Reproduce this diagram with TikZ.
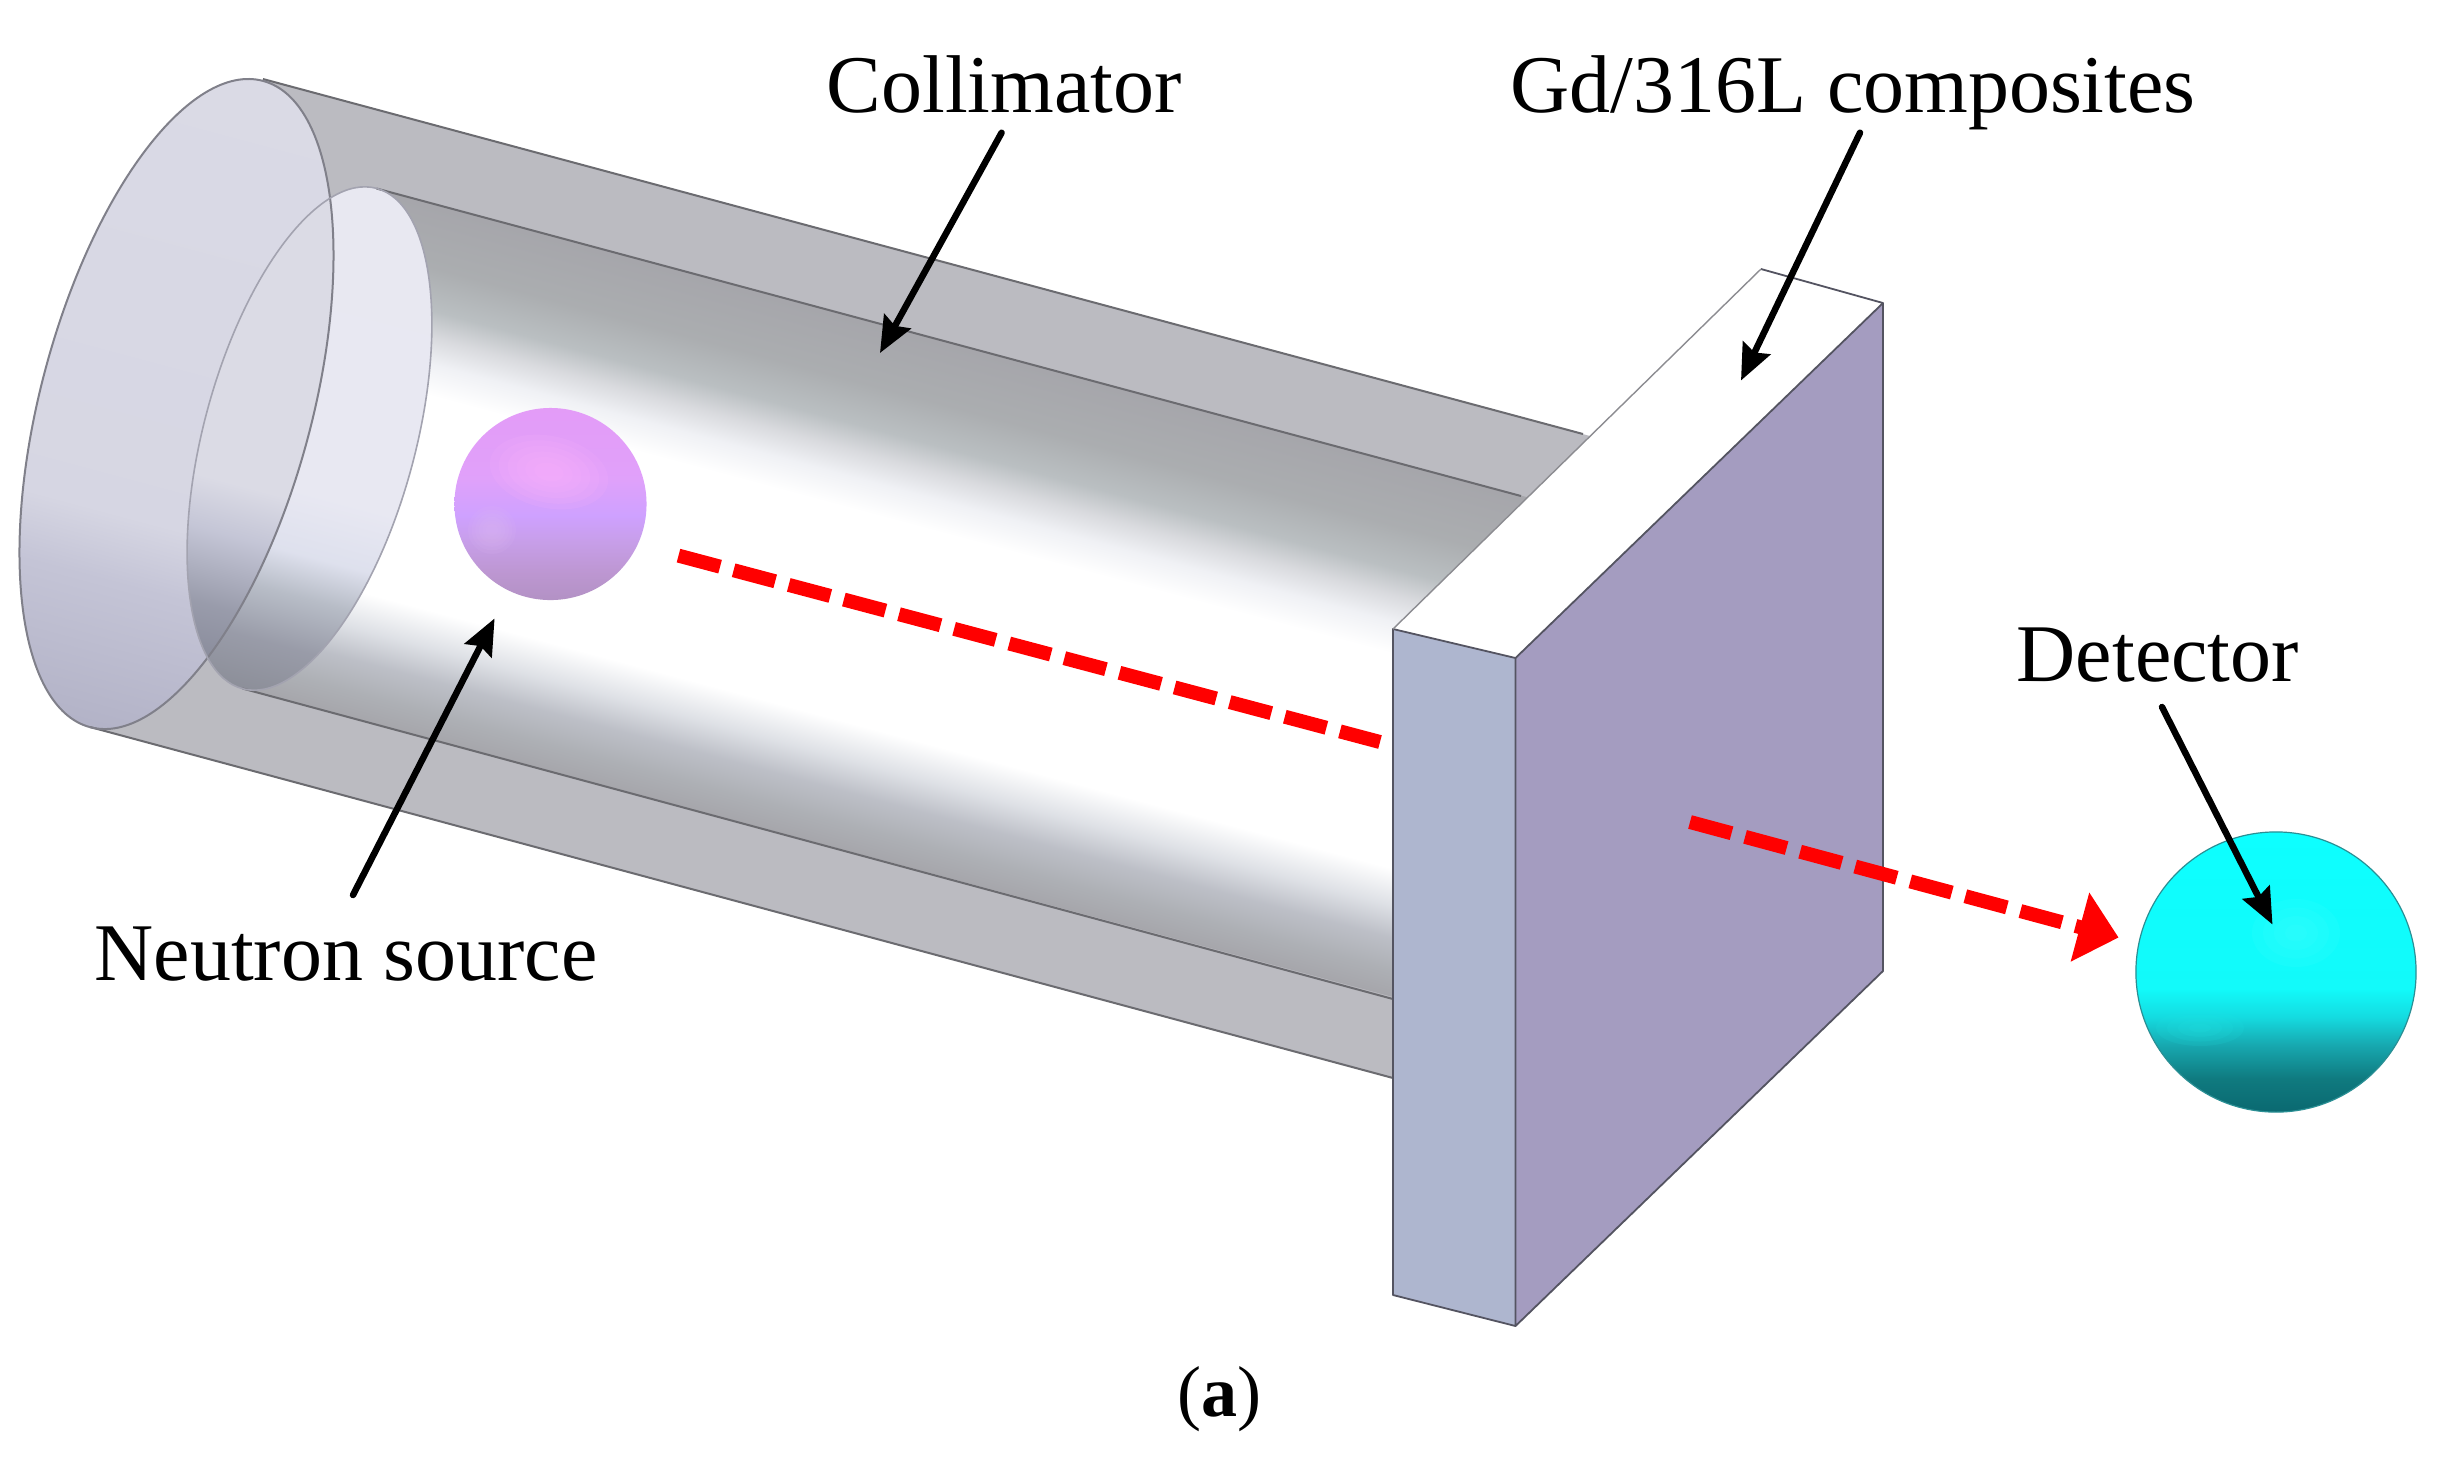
\documentclass[tikz,border=0pt]{standalone}
\usepackage{fontspec}
\setmainfont{Liberation Serif}
\usetikzlibrary{arrows.meta}
\definecolor{bodygrey}{rgb}{.735,.735,.755}
\definecolor{bodyline}{rgb}{.42,.42,.44}
\definecolor{capline}{rgb}{.50,.50,.54}
\definecolor{caplinelight}{rgb}{.64,.64,.69}
\definecolor{panelline}{rgb}{.33,.33,.38}
\definecolor{panelleft}{HTML}{AEB6CF}
\definecolor{panelright}{HTML}{A49CC0}
\definecolor{panelgrey}{rgb}{.55,.55,.57}
\definecolor{pinkhi}{HTML}{FDB4FA}
\definecolor{pinklo}{HTML}{DDB8F2}
\definecolor{cyanhi}{HTML}{40FFFF}
\definecolor{cyanlow}{HTML}{22E6E6}
\definecolor{cyanedge}{HTML}{2A8F94}
\pgfdeclareverticalshading{boreshade}{100bp}{
 rgb(0bp)=(.65,.65,.67); rgb(25bp)=(.65,.65,.67); rgb(27.5bp)=(.68,.69,.71); rgb(30.5bp)=(.74,.75,.78);
 rgb(33.5bp)=(.87,.88,.90); rgb(37bp)=(1,1,1); rgb(57bp)=(1,1,1); rgb(60bp)=(.94,.945,.96);
 rgb(62.5bp)=(.85,.855,.87); rgb(65bp)=(.73,.75,.76); rgb(69bp)=(.67,.68,.69); rgb(75bp)=(.65,.65,.67); rgb(100bp)=(.65,.65,.67)}
\pgfdeclareverticalshading{outercap}{100bp}{
 rgb(0bp)=(.70,.70,.78); rgb(25bp)=(.70,.70,.78); rgb(36bp)=(.77,.77,.84); rgb(41bp)=(.84,.84,.89);
 rgb(75bp)=(.855,.855,.90); rgb(100bp)=(.855,.855,.90)}
\pgfdeclareverticalshading{innercap}{100bp}{
 rgb(0bp)=(.55,.56,.60); rgb(25bp)=(.55,.56,.60); rgb(30bp)=(.60,.61,.66); rgb(35bp)=(.72,.74,.78);
 rgb(39bp)=(.87,.88,.93); rgb(45bp)=(.91,.91,.95); rgb(75bp)=(.91,.91,.945); rgb(100bp)=(.91,.91,.945)}
\pgfdeclareverticalshading{overlapcap}{100bp}{
 rgb(0bp)=(.52,.53,.59); rgb(25bp)=(.52,.53,.59); rgb(32bp)=(.60,.61,.67); rgb(39bp)=(.77,.775,.84);
 rgb(44bp)=(.86,.86,.90); rgb(75bp)=(.86,.86,.90); rgb(100bp)=(.86,.86,.90)}
\pgfdeclareverticalshading{pinkball}{100bp}{
 rgb(0bp)=(.70,.57,.77); rgb(25bp)=(.70,.57,.77); rgb(32bp)=(.74,.59,.82); rgb(40bp)=(.78,.62,.91);
 rgb(47bp)=(.81,.63,1); rgb(57bp)=(.88,.63,.98); rgb(75bp)=(.89,.61,.97); rgb(100bp)=(.89,.61,.97)}
\pgfdeclareverticalshading{cyanball}{100bp}{
 rgb(0bp)=(.04,.41,.44); rgb(25bp)=(.04,.41,.44); rgb(31bp)=(.06,.48,.50); rgb(37bp)=(.09,.66,.69);
 rgb(42bp)=(.08,.86,.88); rgb(47bp)=(.07,.98,.98); rgb(75bp)=(.05,1,1); rgb(100bp)=(.05,1,1)}
\tikzset{
 bodyedge/.style={draw=bodyline,line width=.02cm},
 capedge/.style={draw=capline,line width=.02cm},
 capedgelight/.style={draw=caplinelight,line width=.016cm},
 paneledge/.style={draw=panelline,line width=.018cm,line join=round},
 reddash/.style={draw=red,line width=.14cm,dash pattern=on .43cm off .14cm},
 callout/.style={draw=black,line width=.065cm,line cap=round,-{Stealth[length=.36cm,width=.30cm,inset=.05cm]}},
 labeltext/.style={anchor=base west,inner sep=0pt,font=\fontsize{23.3pt}{28pt}\selectfont},
}
\newcommand\outerE{(176.5,-404) ellipse [x radius=135.6,y radius=334.5,rotate=-15]}
\newcommand\innerE{(309.5,-438.5) ellipse [x radius=106,y radius=259,rotate=-15]}
\begin{document}
\begin{tikzpicture}[x=.01cm,y=.01cm]
\useasboundingbox (0,0) rectangle (2438,-1462);
\fill[white] (0,0) rectangle (2438,-1462);
% collimator body
\fill[bodygrey] (263,-79) -- (1590,-436) -- (1420,-1085) -- (90,-727) -- cycle;
% bore
\begin{scope}
 \clip (376.5,-188.5) -- (1530,-498) -- (1400,-1001) -- (242.5,-688.5) -- cycle;
 \path[shading=boreshade,transform canvas={rotate around={-15:(309.5,-438.5)}}]
   (150,-179.5) rectangle (1600,-697.5);
\end{scope}
% end caps
\begin{scope}
 \clip \outerE;
 \path[shading=outercap,transform canvas={rotate around={-15:(176.5,-404)}}]
   (0,-69.5) rectangle (350,-738.5);
\end{scope}
\begin{scope}
 \clip \innerE;
 \path[shading=innercap,transform canvas={rotate around={-15:(309.5,-438.5)}}]
   (150,-179.5) rectangle (470,-697.5);
\end{scope}
\begin{scope}
 \clip \outerE;
 \clip \innerE;
 \path[shading=overlapcap,transform canvas={rotate around={-15:(309.5,-438.5)}}]
   (150,-179.5) rectangle (470,-697.5);
\end{scope}
% edges
\draw[bodyedge] (263,-79) -- (1583,-434);
\draw[bodyedge] (90,-727) -- (1393,-1078);
\draw[bodyedge] (376.5,-188.5) -- (1521,-496);
\draw[bodyedge] (242.5,-688.5) -- (1393,-999);
\draw[capedge] \outerE;
\draw[capedgelight] \innerE;
% neutron source sphere
\node[circle,draw=none,minimum size=1.92cm,inner sep=0pt,shading=pinkball] (source) at (550.5,-504) {};
\begin{scope}
 \clip (550.5,-504) circle [radius=96];
 \foreach \k in {1,.85,.7,.55,.4,.25} {
  \fill[pinkhi,opacity=.14] (549,-472) ellipse [x radius=60*\k,y radius=36*\k,rotate=-12];
  \fill[pinklo,opacity=.12] (492,-530) ellipse [x radius=24*\k,y radius=24*\k];
 }
\end{scope}
% detector sphere
\node[circle,draw=cyanedge,line width=.012cm,minimum size=2.8cm,inner sep=0pt,shading=cyanball] (detector) at (2276,-972) {};
\begin{scope}
 \clip (2276,-972) circle [radius=139];
 \foreach \k in {1,.75,.5,.25} {
  \fill[cyanhi,opacity=.15] (2296,-933) ellipse [x radius=44*\k,y radius=34*\k];
  \fill[cyanlow,opacity=.12] (2200,-1028) ellipse [x radius=44*\k,y radius=18*\k];
 }
\end{scope}
% first beam
\coordinate (beamA) at (678.5,-555.6);
\coordinate (beamB) at (1380,-742);
\draw[reddash] (beamA) -- (beamB);
% composite plate
\coordinate (A) at (1393,-629);
\coordinate (B) at (1515.5,-658);
\coordinate (C) at (1515.5,-1326);
\coordinate (D) at (1393,-1295);
\coordinate (E) at (1883,-303);
\coordinate (F) at (1761,-269);
\coordinate (G) at (1883,-971);
\fill[white] (A) -- (F) -- (E) -- (B) -- cycle;
\fill[panelleft] (A) -- (B) -- (C) -- (D) -- cycle;
\fill[panelright] (B) -- (E) -- (G) -- (C) -- cycle;
\draw[paneledge] (F) -- (E) -- (G) -- (C) -- (D) -- (A) -- (B) -- (C);
\draw[paneledge] (B) -- (E);
\draw[panelgrey,line width=.014cm] (A) -- (F);
% second beam
\coordinate (beamC) at (1690,-822);
\coordinate (beamD) at (2118.6,-937.5);
\draw[reddash,-{Triangle[length=.40cm,width=.69cm,fill=red]}] (beamC) -- (beamD);
% labels
\node[labeltext] (collimator) at (826,-112.7) {Collimator};
\node[labeltext] (composites) at (1510,-112.7) {Gd/316L composites};
\node[labeltext] (neutron) at (94,-980) {Neutron source};
\node[labeltext] (detlabel) at (2016,-681) {Detector};
\node[anchor=base west,inner sep=0pt,font=\fontsize{20.5pt}{26pt}\selectfont] (caption) at (1177,-1416.7) {(\textbf{a})};
% callout arrows
\coordinate (c1) at (1001.6,-132.7);
\coordinate (c2) at (880,-353);
\draw[callout] (c1) -- (c2);
\coordinate (g1) at (1860,-132.7);
\coordinate (g2) at (1741,-380.5);
\draw[callout] (g1) -- (g2);
\coordinate (n1) at (353,-895);
\coordinate (n2) at (494.6,-618.4);
\draw[callout] (n1) -- (n2);
\coordinate (d1) at (2162,-707);
\coordinate (d2) at (2272.5,-924.5);
\draw[callout] (d1) -- (d2);
\end{tikzpicture}
\end{document}
